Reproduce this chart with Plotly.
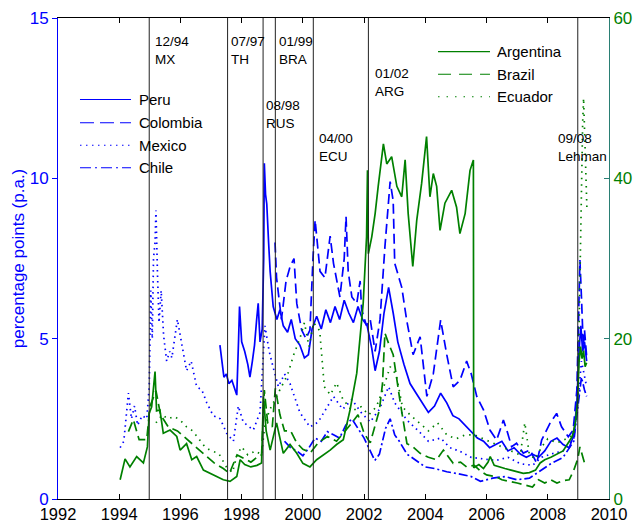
import plotly.graph_objects as go

# ---------------- data ----------------
# left axis (percentage points), blue series
peru = [(1997.29, 4.8), (1997.36, 4.3), (1997.42, 3.8), (1997.5, 3.9), (1997.58, 3.6), (1997.68, 3.7),
        (1997.78, 3.4), (1997.84, 3.24), (1997.9, 5.0), (1997.93, 6.0), (1998.0, 4.9), (1998.1, 4.6),
        (1998.2, 4.2), (1998.27, 3.8), (1998.35, 4.3), (1998.42, 4.8), (1998.49, 5.6), (1998.54, 6.1),
        (1998.6, 4.9), (1998.67, 5.3), (1998.72, 7.5), (1998.74, 10.47), (1998.78, 9.5), (1998.82, 9.2),
        (1998.88, 8.0), (1998.93, 7.1), (1999.03, 6.0), (1999.15, 5.6), (1999.25, 5.9), (1999.36, 5.4),
        (1999.5, 5.2), (1999.62, 5.6), (1999.75, 5.0), (1999.9, 4.8), (2000.05, 4.4), (2000.18, 4.5),
        (2000.3, 5.3), (2000.45, 5.7), (2000.6, 5.3), (2000.75, 5.9), (2000.9, 5.5), (2001.05, 6.0),
        (2001.2, 5.6), (2001.35, 6.2), (2001.5, 5.8), (2001.65, 5.5), (2001.8, 6.0), (2001.95, 5.6),
        (2002.1, 5.4), (2002.25, 4.7), (2002.36, 4.0), (2002.5, 4.6), (2002.65, 5.8), (2002.8, 6.6),
        (2002.95, 5.8), (2003.1, 4.9), (2003.3, 4.2), (2003.5, 3.6), (2003.7, 3.3), (2003.9, 3.0),
        (2004.1, 2.7), (2004.3, 2.9), (2004.5, 3.3), (2004.7, 3.0), (2004.9, 2.6), (2005.1, 2.5),
        (2005.3, 2.3), (2005.5, 2.1), (2005.7, 1.9), (2005.9, 1.8), (2006.1, 1.6), (2006.3, 1.7),
        (2006.5, 1.8), (2006.7, 1.5), (2006.9, 1.6), (2007.1, 1.4), (2007.3, 1.3), (2007.5, 1.4),
        (2007.7, 1.3), (2007.9, 1.5), (2008.1, 1.8), (2008.3, 1.9), (2008.5, 1.7), (2008.7, 1.6),
        (2008.85, 2.0), (2008.95, 3.0), (2009.02, 4.6), (2009.08, 5.4), (2009.14, 4.6), (2009.2, 4.9),
        (2009.27, 4.3)]

colombia = [(1999.09, 8.0), (1999.14, 6.9), (1999.3, 5.6), (1999.45, 6.8), (1999.58, 7.24), (1999.71, 7.5),
            (1999.8, 6.1), (1999.96, 5.27), (2000.1, 5.0), (2000.23, 5.27), (2000.33, 7.5), (2000.4, 8.7),
            (2000.45, 8.2), (2000.56, 7.1), (2000.72, 6.9), (2000.89, 8.2), (2001.0, 7.35), (2001.1, 6.8),
            (2001.21, 6.3), (2001.35, 7.5), (2001.41, 8.8), (2001.48, 7.1), (2001.6, 6.3), (2001.76, 6.1),
            (2001.87, 6.8), (2001.92, 5.9), (2002.08, 5.4), (2002.2, 5.6), (2002.36, 4.6), (2002.52, 5.6),
            (2002.68, 7.87), (2002.85, 9.9), (2002.95, 9.3), (2003.0, 7.35), (2003.23, 6.6), (2003.39, 5.58),
            (2003.6, 4.5), (2003.83, 5.06), (2004.05, 3.2), (2004.26, 3.9), (2004.5, 5.58), (2004.7, 4.5),
            (2004.91, 3.5), (2005.13, 3.7), (2005.35, 4.3), (2005.5, 3.9), (2005.68, 3.2), (2005.9, 2.78),
            (2006.11, 2.15), (2006.33, 1.84), (2006.55, 2.46), (2006.66, 2.15), (2006.82, 1.63), (2006.98, 1.74),
            (2007.2, 1.43), (2007.42, 1.53), (2007.64, 1.11), (2007.8, 1.84), (2008.07, 2.36), (2008.29, 2.67),
            (2008.45, 2.25), (2008.67, 1.94), (2008.83, 2.15), (2008.95, 3.4), (2009.0, 5.27), (2009.05, 7.45),
            (2009.1, 6.3), (2009.16, 4.75), (2009.2, 5.27), (2009.27, 4.44)]

mexico = [(1994.03, 1.6), (1994.15, 1.8), (1994.3, 3.3), (1994.4, 2.5), (1994.5, 2.9), (1994.6, 2.3),
          (1994.75, 2.6), (1994.9, 2.5), (1994.98, 3.5), (1995.03, 6.5), (1995.08, 5.0), (1995.12, 7.5),
          (1995.17, 8.0), (1995.2, 9.0), (1995.25, 7.0), (1995.3, 5.5), (1995.37, 6.5), (1995.45, 5.1),
          (1995.55, 4.3), (1995.65, 4.6), (1995.72, 4.4), (1995.85, 5.2), (1995.9, 5.6), (1996.05, 4.8),
          (1996.2, 4.0), (1996.35, 4.3), (1996.53, 3.5), (1996.7, 3.4), (1996.86, 3.0), (1997.07, 2.6),
          (1997.3, 2.5), (1997.51, 2.05), (1997.73, 1.8), (1997.89, 2.9), (1998.05, 2.4), (1998.38, 2.15),
          (1998.6, 2.7), (1998.76, 5.4), (1998.9, 4.6), (1999.03, 4.1), (1999.2, 3.5), (1999.4, 3.9),
          (1999.58, 3.6), (1999.9, 2.7), (2000.23, 2.25), (2000.5, 2.4), (2000.8, 2.9), (2001.0, 3.2),
          (2001.3, 2.8), (2001.6, 3.1), (2001.9, 2.7), (2002.2, 2.4), (2002.5, 2.8), (2002.8, 3.5),
          (2003.0, 3.0), (2003.4, 2.46), (2003.8, 2.1), (2004.1, 1.8), (2004.5, 1.9), (2004.8, 1.6),
          (2005.1, 1.5), (2005.5, 1.3), (2005.9, 1.25), (2006.3, 1.2), (2006.7, 1.3), (2007.1, 1.1),
          (2007.5, 1.05), (2007.8, 1.3), (2008.1, 1.4), (2008.5, 1.5), (2008.85, 1.9), (2009.0, 3.2),
          (2009.1, 4.3), (2009.2, 3.8), (2009.27, 3.5)]

chile = [(1999.4, 1.8), (1999.6, 1.6), (1999.8, 1.5), (2000.0, 1.35), (2000.2, 1.6), (2000.4, 1.9),
         (2000.6, 1.8), (2000.8, 2.1), (2001.0, 2.0), (2001.2, 1.9), (2001.4, 2.3), (2001.6, 2.5),
         (2001.8, 2.2), (2002.0, 1.9), (2002.2, 1.5), (2002.35, 1.2), (2002.5, 1.4), (2002.7, 2.2),
         (2002.85, 2.5), (2003.0, 2.0), (2003.15, 1.8), (2003.4, 1.4), (2003.7, 1.2), (2004.0, 1.0),
         (2004.3, 0.95), (2004.7, 0.85), (2005.0, 0.8), (2005.5, 0.7), (2005.8, 0.55), (2006.2, 0.65),
         (2006.6, 0.7), (2007.0, 0.6), (2007.4, 0.65), (2007.8, 0.9), (2008.1, 1.1), (2008.5, 1.3),
         (2008.85, 1.8), (2009.0, 3.0), (2009.1, 3.8), (2009.2, 3.4), (2009.27, 3.2)]

# right axis, green series
argentina = [(1994.03, 2.4), (1994.19, 5.0), (1994.35, 4.0), (1994.57, 5.3), (1994.79, 4.5), (1994.92, 6.5),
             (1994.98, 10.7), (1995.06, 11.5), (1995.17, 15.9), (1995.22, 11.0), (1995.33, 11.1), (1995.44, 8.2),
             (1995.66, 8.6), (1995.88, 7.8), (1995.99, 6.1), (1996.2, 6.9), (1996.37, 4.9), (1996.53, 5.3),
             (1996.75, 3.6), (1996.97, 3.2), (1997.18, 2.8), (1997.4, 2.4), (1997.62, 2.2), (1997.84, 2.8),
             (1997.95, 4.9), (1998.1, 4.3), (1998.3, 4.0), (1998.5, 4.2), (1998.65, 4.5), (1998.71, 12.8),
             (1998.8, 8.5), (1998.93, 6.1), (1999.14, 9.5), (1999.36, 5.7), (1999.58, 6.8), (1999.8, 5.7),
             (2000.0, 4.45), (2000.23, 4.0), (2000.45, 4.9), (2000.89, 6.1), (2001.1, 6.8), (2001.32, 7.4),
             (2001.54, 11.1), (2001.76, 15.7), (2001.97, 24.4), (2002.08, 32.7), (2002.11, 41.0), (2002.14, 30.6),
             (2002.25, 32.7), (2002.36, 35.6), (2002.46, 39.0), (2002.63, 44.3), (2002.74, 41.8), (2002.9, 42.7),
             (2003.07, 39.0), (2003.23, 37.7), (2003.34, 42.3), (2003.44, 35.6), (2003.59, 29.0), (2003.72, 34.8),
             (2003.88, 39.4), (2004.04, 45.2), (2004.15, 37.7), (2004.26, 40.6), (2004.37, 39.0), (2004.48, 33.5),
             (2004.64, 36.9), (2004.86, 38.5), (2005.02, 36.4), (2005.13, 33.1), (2005.3, 35.6), (2005.46, 41.0),
             (2005.57, 42.3), (2005.58, 3.9), (2005.75, 4.3), (2005.9, 3.8), (2006.05, 4.6), (2006.12, 5.3),
             (2006.25, 4.2), (2006.4, 4.0), (2006.6, 3.8), (2006.8, 3.6), (2007.0, 3.4), (2007.2, 3.2),
             (2007.4, 3.3), (2007.6, 3.6), (2007.75, 4.5), (2007.9, 4.9), (2008.1, 5.2), (2008.3, 5.6),
             (2008.5, 6.0), (2008.65, 6.9), (2008.8, 7.8), (2008.9, 9.5), (2008.97, 12.0), (2009.02, 17.0),
             (2009.07, 19.0), (2009.12, 17.5), (2009.17, 18.5), (2009.22, 16.5), (2009.27, 17.0)]

brazil = [(1994.3, 8.4), (1994.46, 9.9), (1994.65, 7.4), (1994.9, 7.4), (1995.0, 11.5), (1995.2, 13.5),
          (1995.35, 10.5), (1995.6, 9.0), (1995.9, 8.5), (1996.2, 7.5), (1996.5, 6.5), (1996.8, 5.5),
          (1997.1, 4.5), (1997.4, 3.8), (1997.6, 3.2), (1997.85, 5.5), (1998.1, 5.0), (1998.3, 4.6),
          (1998.5, 5.2), (1998.65, 5.5), (1998.74, 13.6), (1998.85, 9.5), (1999.0, 9.0), (1999.1, 13.8),
          (1999.25, 10.5), (1999.4, 8.5), (1999.6, 8.5), (1999.8, 7.0), (2000.0, 6.2), (2000.25, 5.8),
          (2000.5, 7.0), (2000.8, 7.8), (2001.1, 7.2), (2001.4, 8.5), (2001.6, 9.5), (2001.8, 10.5),
          (2002.0, 8.2), (2002.2, 7.0), (2002.35, 9.0), (2002.5, 11.1), (2002.6, 14.4), (2002.68, 20.7),
          (2002.8, 19.4), (2002.95, 18.0), (2003.17, 12.3), (2003.4, 6.9), (2003.6, 6.5), (2003.83, 5.7),
          (2004.1, 5.2), (2004.37, 4.9), (2004.59, 6.1), (2004.91, 4.45), (2005.15, 4.6), (2005.35, 4.0),
          (2005.6, 4.2), (2005.8, 3.5), (2006.0, 3.0), (2006.3, 2.8), (2006.5, 2.4), (2006.8, 2.2),
          (2007.0, 2.0), (2007.3, 1.7), (2007.5, 1.5), (2007.7, 2.4), (2007.9, 2.0), (2008.1, 2.4),
          (2008.3, 2.0), (2008.5, 2.3), (2008.7, 2.4), (2008.85, 3.6), (2008.98, 5.0), (2009.05, 6.5),
          (2009.12, 5.5), (2009.2, 4.5), (2009.27, 4.2)]

ecuador = [(1995.2, 9.5), (1995.4, 10.5), (1995.6, 10.0), (1995.8, 10.3), (1996.0, 9.8), (1996.2, 9.0),
           (1996.4, 8.5), (1996.6, 7.5), (1996.8, 6.5), (1997.0, 6.0), (1997.25, 5.7), (1997.5, 4.0),
           (1997.7, 3.3), (1997.85, 5.5), (1998.0, 6.5), (1998.2, 5.5), (1998.45, 6.0), (1998.65, 5.5),
           (1998.75, 9.0), (1998.9, 11.0), (1999.1, 12.5), (1999.3, 14.0), (1999.5, 15.5), (1999.7, 18.0),
           (1999.9, 20.0), (2000.05, 22.0), (2000.2, 19.0), (2000.35, 22.0), (2000.55, 21.0), (2000.7, 14.0),
           (2000.9, 13.0), (2001.1, 14.5), (2001.3, 12.5), (2001.6, 11.0), (2001.9, 11.5), (2002.15, 10.5),
           (2002.4, 11.5), (2002.6, 13.5), (2002.85, 16.5), (2003.05, 15.5), (2003.25, 11.5), (2003.5, 10.5),
           (2003.8, 9.5), (2004.1, 8.5), (2004.4, 9.5), (2004.7, 8.0), (2005.0, 7.5), (2005.3, 8.0),
           (2005.6, 8.0), (2005.9, 7.5), (2006.2, 7.0), (2006.5, 6.5), (2006.8, 6.0), (2007.1, 5.5),
           (2007.25, 9.5), (2007.4, 5.5), (2007.6, 5.0), (2007.8, 6.5), (2008.0, 7.5), (2008.3, 7.0),
           (2008.6, 7.5), (2008.85, 8.0), (2008.98, 12.0), (2009.02, 22.0), (2009.06, 33.0), (2009.1, 40.0),
           (2009.14, 47.0), (2009.17, 50.0), (2009.21, 44.0), (2009.25, 38.0), (2009.28, 36.0)]

event_dates = [1994.98, 1997.54, 1998.70, 1999.10, 2000.34, 2002.14, 2008.98]
event_labels = ["12/94<br>MX", "07/97<br>TH", "08/98<br>RUS", "01/99<br>BRA",
                "04/00<br>ECU", "01/02<br>ARG", "09/08<br>Lehman"]

x_ticks = [1992, 1994, 1996, 1998, 2000, 2002, 2004, 2006, 2008, 2010]
left_ticks = [0, 5, 10, 15]
right_ticks = [0, 20, 40, 60]

# ---------------- styling ----------------
BLUE = "#0000FF"
GREEN = "#008000"
TEAL = "#2A7F74"
FONT = "Liberation Sans, Arial, sans-serif"

series = [
    ("Peru", peru, "y", BLUE, "solid", "solid"),
    ("Colombia", colombia, "y", BLUE, "10px,5px", "14px,6px"),
    ("Mexico", mexico, "y", BLUE, "1.5px,4px", "1.5px,4.5px"),
    ("Chile", chile, "y", BLUE, "9px,3px,2px,3px", "11px,4px,2px,4px"),
    ("Argentina", argentina, "y2", GREEN, "solid", "solid"),
    ("Brazil", brazil, "y2", GREEN, "10px,5px", "13px,8px"),
    ("Ecuador", ecuador, "y2", GREEN, "1.5px,5px", "1.5px,7px"),
]

fig = go.Figure()
for name, pts, yax, color, dash, _ in series:
    t = [p[0] for p in pts]
    v = [p[1] for p in pts]
    fig.add_trace(go.Scatter(x=t, y=v, name=name, mode="lines", yaxis=yax,
                             line=dict(color=color, width=1.7, dash=dash),
                             showlegend=False, hoverinfo="skip"))

# event lines
shapes = []
for d in event_dates:
    shapes.append(dict(type="line", xref="x", yref="paper", x0=d, x1=d, y0=0, y1=1,
                       line=dict(color="#222222", width=1), layer="above"))

# manual legends (paper coordinates)
leg_rows = {
    "Peru": (0.0399, 0.1325, 0.1434, 0.8306),
    "Colombia": (0.0399, 0.1325, 0.1434, 0.7823),
    "Mexico": (0.0399, 0.1325, 0.1434, 0.7353),
    "Chile": (0.0399, 0.1325, 0.1434, 0.6888),
    "Argentina": (0.6897, 0.7840, 0.7931, 0.9300),
    "Brazil": (0.6897, 0.7840, 0.7931, 0.8830),
    "Ecuador": (0.6897, 0.7840, 0.7931, 0.8364),
}
annotations = []
for name, pts, yax, color, dash, ldash in series:
    x0, x1, xt, yy = leg_rows[name]
    shapes.append(dict(type="line", xref="paper", yref="paper", x0=x0, x1=x1, y0=yy, y1=yy,
                       line=dict(color=color, width=1.1, dash=ldash)))
    annotations.append(dict(xref="paper", yref="paper", x=xt, y=yy, text=name, showarrow=False,
                            xanchor="left", yanchor="middle", font=dict(size=15, color="black", family=FONT)))

# event labels
label_x = [1995.09, 1997.60, 1998.73, 1999.145, 2000.45, 2002.28, 2008.27]
label_y = [0.9314, 0.9314, 0.8004, 0.9314, 0.7318, 0.8669, 0.7318]
for txt, lx, ly in zip(event_labels, label_x, label_y):
    annotations.append(dict(xref="x", yref="paper", x=lx, y=ly, text=txt, showarrow=False,
                            xanchor="left", yanchor="middle", align="left",
                            font=dict(size=13.5, color="black", family=FONT)))

fig.update_layout(
    width=634, height=522,
    margin=dict(l=58, r=25, t=18, b=23, autoexpand=False),
    paper_bgcolor="white", plot_bgcolor="white",
    font=dict(family=FONT, size=17, color="black"),
    shapes=shapes, annotations=annotations,
    xaxis=dict(range=[1992, 2010], tickvals=x_ticks, ticks="inside", ticklen=5,
               tickcolor="black", showline=True, linecolor="black", linewidth=1,
               mirror="ticks", showgrid=False, zeroline=False, automargin=False,
               ticklabelstandoff=0,
               tickfont=dict(size=16.5, color="black")),
    yaxis=dict(range=[0, 15], tickvals=left_ticks, ticks="outside", ticklen=5,
               tickcolor=BLUE, showline=True, linecolor=BLUE, linewidth=1,
               showgrid=False, zeroline=False, automargin=False,
               tickfont=dict(size=17, color=BLUE),
               title=dict(text="percentage points (p.a.)", font=dict(size=17, color=BLUE), standoff=0)),
    yaxis2=dict(range=[0, 60], tickvals=right_ticks, ticks="inside", ticklen=5,
                tickcolor=TEAL, showline=True, linecolor=TEAL, linewidth=1,
                overlaying="y", side="right", showgrid=False, zeroline=False, automargin=False,
                tickfont=dict(size=17, color=GREEN)),
)

fig.write_html("out.html", config={"displayModeBar": False},
               post_script="document.body.style.margin='0px';")
